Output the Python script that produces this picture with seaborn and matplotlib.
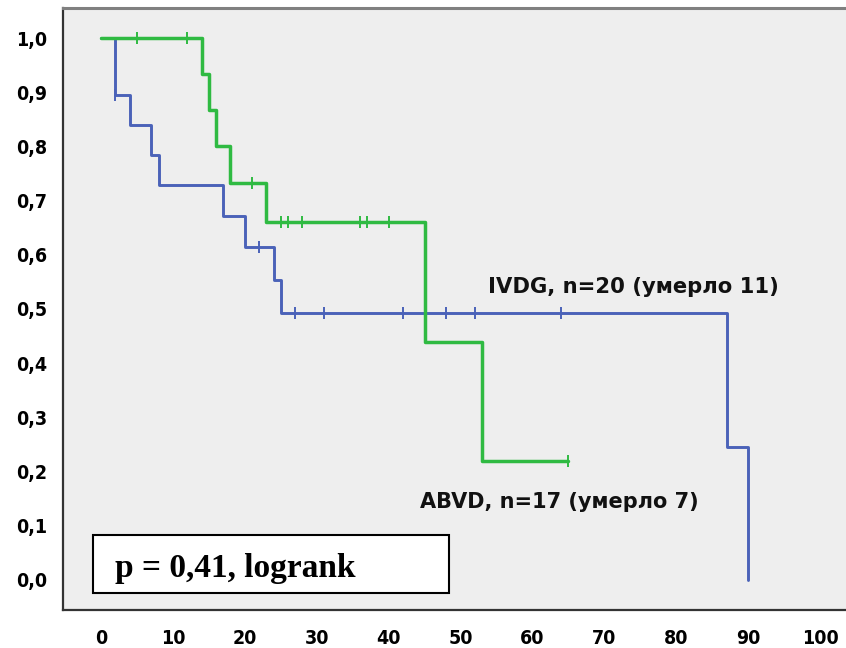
import numpy as np
import matplotlib
matplotlib.use("Agg")
import matplotlib.pyplot as plt
from matplotlib.patches import Rectangle
from matplotlib.ticker import FuncFormatter
import seaborn as sns

# ------------------------------------------------------------
# Kaplan-Meier step data
# ------------------------------------------------------------
ivdg_times = [0, 2, 4, 7, 8, 17, 20, 24, 25, 87, 90]
ivdg_surv = [1.0, 0.895, 0.840, 0.784, 0.728, 0.671, 0.615, 0.554, 0.492, 0.246, 0.0]
ivdg_censored = [2, 22, 27, 31, 42, 48, 52, 64]

abvd_times = [0, 14, 15, 16, 18, 23, 45, 53, 65]
abvd_surv = [1.0, 0.933, 0.867, 0.800, 0.733, 0.660, 0.440, 0.220, 0.220]
abvd_censored = [5, 12, 21, 25, 26, 28, 36, 37, 40, 65]

ivdg_label = "IVDG, n=20 (умерло 11)"
abvd_label = "ABVD, n=17 (умерло 7)"
p_text = "p = 0,41, logrank"

x_ticks = list(range(0, 101, 10))
y_ticks = [i / 10 for i in range(11)]

blue = "#4a62b8"
green = "#2fba42"


def surv_at(times, surv, t_list):
    idx = np.searchsorted(times, t_list, side="right") - 1
    return [surv[i] for i in idx]


sns.set_style("white")
plt.rcParams["font.family"] = ["DejaVu Sans"]

fig = plt.figure(figsize=(8.46, 6.48), dpi=100)
ax = fig.add_axes([63 / 846, 1 - 610 / 648, 1 - 63 / 846, (610 - 8) / 648])
ax.set_facecolor("#eeeeee")

# ---- curves ----
sns.lineplot(x=ivdg_times, y=ivdg_surv, drawstyle="steps-post", estimator=None,
             sort=False, color=blue, linewidth=2.1, ax=ax)
sns.scatterplot(x=ivdg_censored, y=surv_at(ivdg_times, ivdg_surv, ivdg_censored),
                marker="|", s=80, linewidth=1.4, color=blue, ax=ax, zorder=3)

sns.lineplot(x=abvd_times, y=abvd_surv, drawstyle="steps-post", estimator=None,
             sort=False, color=green, linewidth=2.5, ax=ax)
sns.scatterplot(x=abvd_censored, y=surv_at(abvd_times, abvd_surv, abvd_censored),
                marker="|", s=80, linewidth=1.4, color=green, ax=ax, zorder=4)

# ---- axes ----
ax.set_xlim(-5.28, 103.6)
ax.set_ylim(-0.0554, 1.0554)
ax.set_xticks(x_ticks)
ax.set_yticks(y_ticks)
ax.yaxis.set_major_formatter(FuncFormatter(lambda v, _: f"{v:.1f}".replace(".", ",")))
ax.tick_params(axis="both", direction="out", length=10.5, width=1.5, color="#333333",
               labelsize=14, labelcolor="black")
ax.tick_params(axis="y", pad=1)
ax.tick_params(axis="x", pad=3)
for lab in ax.get_xticklabels() + ax.get_yticklabels():
    lab.set_fontweight("bold")
    lab.set_fontstretch("condensed")

for side in ["left", "bottom"]:
    ax.spines[side].set_color("#333333")
    ax.spines[side].set_linewidth(1.6)
ax.spines["top"].set_color("#808080")
ax.spines["top"].set_linewidth(2.2)
ax.spines["right"].set_visible(False)
ax.set_xlabel("")
ax.set_ylabel("")

# ---- annotations ----
ax.text(53.8, 0.541, ivdg_label, fontsize=15.2, fontweight="bold", color="#111111",
        va="center", ha="left")
ax.text(44.4, 0.144, abvd_label, fontsize=15, fontweight="bold", color="#111111",
        va="center", ha="left")

ax.add_patch(Rectangle((-1.11, -0.024), 49.5, 0.107, facecolor="white",
                       edgecolor="black", linewidth=1.5, zorder=5))
ax.text(1.95, 0.006, p_text, fontsize=24, fontweight="bold", family="Liberation Serif",
        color="black", va="baseline", ha="left", zorder=6)

fig.savefig("out.png", dpi=100)
